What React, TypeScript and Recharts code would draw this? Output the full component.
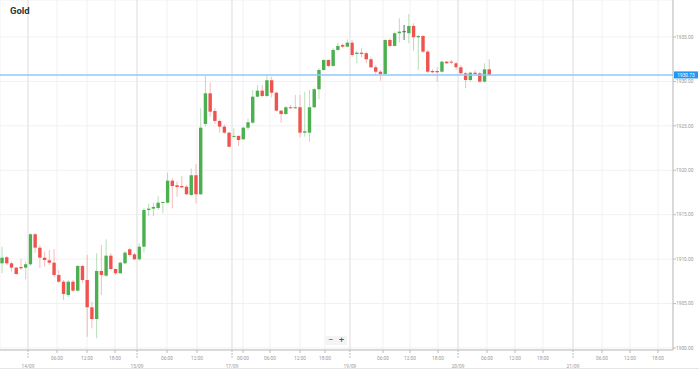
import React from "react";
import { ComposedChart, Bar, XAxis, YAxis, CartesianGrid, ReferenceLine } from "recharts";

// ---- data (hourly candles) ----
const opens = [
  1909.53, 1910.21, 1909.53, 1909.04, 1909.12, 1909.04, 1909.42, 1912.80, 1911.29, 1910.16,
  1909.87, 1909.60, 1908.22, 1907.46, 1905.96, 1907.46, 1906.45, 1909.23, 1907.65, 1904.58,
  1903.26, 1908.67, 1908.14, 1910.39, 1908.89, 1908.41, 1909.53, 1911.11, 1910.54, 1909.98,
  1911.40, 1915.53, 1915.68, 1915.76, 1916.35, 1916.35, 1918.83, 1918.31, 1918.23, 1918.15,
  1917.22, 1919.44, 1917.30, 1925.21, 1928.66, 1926.67, 1925.55, 1924.91, 1924.23, 1923.75,
  1923.86, 1923.49, 1924.79, 1925.36, 1928.28, 1928.96, 1928.36, 1930.13, 1928.73, 1926.71,
  1926.33, 1927.09, 1926.98, 1927.09, 1924.23, 1924.23, 1927.09, 1929.12, 1931.29, 1932.41,
  1931.74, 1933.54, 1934.10, 1933.91, 1934.36, 1933.09, 1933.23, 1933.17, 1932.49, 1931.59,
  1931.09, 1930.84, 1934.66, 1933.99, 1935.42, 1935.65, 1935.42, 1936.24, 1934.97, 1935.11,
  1933.35, 1931.17, 1931.17, 1931.09, 1932.22, 1932.22, 1932.04, 1931.59, 1930.91, 1930.16,
  1930.98, 1930.91, 1929.97, 1931.36,
];
const highs = [
  1911.40, 1910.35, 1909.71, 1909.15, 1910.02, 1909.71, 1912.91, 1912.94, 1911.59, 1910.84,
  1911.03, 1911.14, 1908.78, 1907.65, 1907.65, 1907.65, 1909.34, 1909.34, 1910.47, 1905.21,
  1910.66, 1911.59, 1912.23, 1910.66, 1908.97, 1909.71, 1910.92, 1911.29, 1910.73, 1911.78,
  1915.72, 1916.21, 1916.35, 1917.11, 1916.46, 1919.73, 1919.10, 1918.72, 1919.36, 1918.34,
  1920.18, 1920.71, 1926.98, 1930.61, 1929.86, 1927.01, 1925.74, 1925.13, 1924.34, 1924.73,
  1923.94, 1924.91, 1925.81, 1929.03, 1929.60, 1929.60, 1930.84, 1930.53, 1928.84, 1926.78,
  1927.23, 1927.35, 1928.47, 1928.47, 1928.84, 1929.03, 1929.26, 1931.48, 1932.49, 1932.49,
  1933.73, 1934.36, 1934.29, 1934.74, 1934.66, 1933.46, 1933.73, 1933.35, 1932.78, 1931.85,
  1931.29, 1934.74, 1934.85, 1935.60, 1937.10, 1936.35, 1937.59, 1936.54, 1935.23, 1935.23,
  1933.54, 1931.36, 1931.62, 1932.33, 1932.30, 1932.41, 1932.22, 1931.85, 1931.09, 1931.09,
  1931.29, 1931.09, 1932.04, 1932.49,
];
const lows = [
  1908.41, 1909.34, 1908.59, 1908.22, 1908.78, 1907.73, 1909.23, 1910.69, 1909.00, 1909.15,
  1909.34, 1907.99, 1907.28, 1905.40, 1905.74, 1906.30, 1906.34, 1907.32, 1901.27, 1902.22,
  1901.09, 1905.96, 1908.02, 1908.78, 1908.22, 1908.33, 1909.42, 1910.27, 1909.90, 1909.82,
  1910.73, 1914.86, 1914.86, 1915.53, 1915.16, 1916.28, 1915.72, 1917.03, 1917.97, 1917.22,
  1917.11, 1916.28, 1917.22, 1924.91, 1926.03, 1925.21, 1924.23, 1924.08, 1922.59, 1923.71,
  1922.73, 1923.41, 1924.53, 1925.21, 1928.21, 1928.21, 1928.21, 1928.21, 1926.59, 1925.36,
  1926.22, 1926.90, 1926.90, 1923.71, 1923.78, 1923.22, 1927.01, 1927.99, 1931.17, 1931.59,
  1931.66, 1933.46, 1933.73, 1933.84, 1932.78, 1932.04, 1932.72, 1932.04, 1931.48, 1930.72,
  1930.08, 1930.72, 1933.84, 1933.91, 1934.36, 1934.66, 1934.29, 1933.46, 1931.29, 1933.17,
  1930.91, 1930.91, 1929.97, 1930.98, 1931.96, 1931.96, 1931.29, 1930.72, 1929.23, 1929.97,
  1930.61, 1929.86, 1929.86, 1930.61,
];
const closes = [
  1910.16, 1909.53, 1909.04, 1908.33, 1908.97, 1909.42, 1912.80, 1911.29, 1910.16, 1909.90,
  1909.60, 1908.22, 1907.46, 1906.08, 1907.46, 1906.45, 1909.23, 1907.65, 1904.58, 1903.26,
  1908.67, 1908.22, 1910.39, 1908.89, 1908.41, 1909.60, 1910.73, 1910.47, 1909.98, 1911.40,
  1915.53, 1915.68, 1915.87, 1916.35, 1916.43, 1918.83, 1918.23, 1918.12, 1918.08, 1917.30,
  1919.44, 1917.30, 1924.79, 1928.66, 1926.59, 1925.55, 1924.91, 1924.23, 1922.65, 1923.86,
  1923.41, 1924.79, 1925.40, 1928.28, 1928.96, 1928.36, 1930.13, 1928.73, 1926.71, 1926.33,
  1927.09, 1926.98, 1927.09, 1924.23, 1924.39, 1927.09, 1929.12, 1931.29, 1932.41, 1931.74,
  1933.54, 1933.99, 1933.91, 1934.36, 1932.97, 1933.23, 1933.09, 1932.49, 1931.59, 1931.09,
  1930.84, 1934.66, 1933.99, 1935.42, 1935.60, 1935.65, 1936.24, 1934.97, 1935.11, 1933.35,
  1931.09, 1931.03, 1931.03, 1932.22, 1932.04, 1932.11, 1931.59, 1930.91, 1930.16, 1930.98,
  1930.84, 1929.97, 1931.36, 1930.73,
];

const lastPrice = 1930.73;
const priceTicks = [1900, 1905, 1910, 1915, 1920, 1925, 1930, 1935];

// time-axis ticks, expressed in candle-index units
const timeTickPos = [
  5.56, 11.69, 18.03, 23.95, 28.6, 34.95, 41.29, 48.69, 51.01, 56.72, 63.07, 68.35,
  73.62, 80.61, 86.32, 92.24, 96.47, 102.6, 108.52, 114.44, 120.78, 126.91, 132.83, 138.75,
];
const timeTickLabels = [
  "14/09", "06:00", "12:00", "18:00", "15/09", "06:00", "12:00", "17/09", "00:00", "06:00", "12:00", "18:00",
  "19/09", "06:00", "12:00", "18:00", "20/09", "06:00", "12:00", "18:00", "21/09", "06:00", "12:00", "18:00",
];
const timeTickIsDay = timeTickLabels.map((l) => l.includes("/"));
const dayTickPos = timeTickPos.filter((_, k) => timeTickIsDay[k]);

const rows = opens.map((o, i) => ({ i, open: o, high: highs[i], low: lows[i], close: closes[i] }));

const UP = "#4caf50";
const DOWN = "#ef5350";
const FONT = "Roboto, Arial, sans-serif";

const Candle = (props: any) => {
  const { x, y, width, height, payload } = props;
  if (!payload) return null;
  const { open, close, high, low } = payload;
  const top = Math.min(y, y + height);
  const h = Math.abs(height);
  const k = h / (high - low);
  const py = (v: number) => top + (high - v) * k;
  const doji = Math.abs(close - open) < 0.03;
  const color = doji ? "#555" : close > open ? UP : DOWN;
  const cx = x + width / 2;
  const bTop = py(Math.max(open, close));
  const bBot = py(Math.min(open, close));
  return (
    <g>
      <line x1={cx} x2={cx} y1={top} y2={top + h} stroke={color} strokeOpacity={doji ? 0.9 : 0.4} strokeWidth={1} />
      <rect x={x} y={bTop} width={width} height={Math.max(bBot - bTop, 1)} fill={color} />
    </g>
  );
};

const XTick = (props: any) => {
  const { x, y, payload } = props;
  const k = timeTickPos.indexOf(payload.value);
  if (k < 0) return null;
  const day = timeTickIsDay[k];
  return (
    <g>
      <line x1={x} x2={x} y1={y} y2={y + (day ? 8 : 3)} stroke="#bbb" strokeDasharray={day ? "2 1" : undefined} />
      <text x={x} y={y + (day ? 18 : 10)} textAnchor="middle" fontSize={4.8} fill="#999" fontFamily={FONT}>
        {timeTickLabels[k]}
      </text>
    </g>
  );
};

const PriceLabel = (props: any) => {
  const vb = props.viewBox || {};
  const x0 = (vb.x || 0) + (vb.width || 0) + 1;
  const yc = vb.y || 0;
  return (
    <g>
      <rect x={x0} y={yc - 3.5} width={24} height={7} fill="#2196f3" />
      <text x={x0 + 12} y={yc + 1.7} textAnchor="middle" fontSize={4.8} fill="#fff" fontFamily={FONT}>
        {lastPrice.toFixed(2)}
      </text>
    </g>
  );
};

export default function App() {
  return (
    <div style={{ position: "absolute", left: 0, top: 0, width: 699, height: 371, background: "#fff" }}>
      <ComposedChart width={699} height={371} data={rows} margin={{ top: 0, right: 0, bottom: 0, left: 0 }}>
        <CartesianGrid stroke="#f1f1f1" />
        <XAxis
          dataKey="i"
          type="number"
          domain={[-0.36, 141.92]}
          allowDataOverflow
          ticks={timeTickPos}
          interval={0}
          height={21}
          tickSize={0}
          tickMargin={0}
          tickLine={false}
          axisLine={{ stroke: "#bbb" }}
          tick={<XTick />}
        />
        <YAxis
          orientation="right"
          type="number"
          domain={[1899.775, 1939.16]}
          allowDataOverflow
          ticks={priceTicks}
          interval={0}
          width={26}
          tickSize={3}
          tickMargin={0}
          tickLine={{ stroke: "#bbb" }}
          axisLine={{ stroke: "#bbb" }}
          tick={{ fontSize: 4.8, fill: "#999", fontFamily: FONT }}
          tickFormatter={(v: number) => v.toFixed(2)}
        />
        {dayTickPos.map((p) => (
          <ReferenceLine key={p} x={p} stroke="#e3e3e3" />
        ))}
        <Bar dataKey={(d: any) => [d.low, d.high]} barSize={3.4} shape={<Candle />} isAnimationActive={false} />
        <ReferenceLine y={lastPrice} stroke="#90caf9" strokeWidth={1.5} label={<PriceLabel />} />
      </ComposedChart>
      <div style={{ position: "absolute", left: 10, top: 5, font: `bold 9.5px ${FONT}`, color: "#333", lineHeight: "12px" }}>
        Gold
      </div>
      <div style={{ position: "absolute", left: 325, top: 336, width: 22, height: 9, background: "#f4f4f4", display: "flex" }}>
        <div style={{ width: 11, textAlign: "center", font: `9px ${FONT}`, lineHeight: "9px", color: "#555" }}>−</div>
        <div style={{ width: 11, textAlign: "center", font: `9px ${FONT}`, lineHeight: "9px", color: "#555" }}>+</div>
      </div>
      <div style={{ position: "absolute", left: 0, top: 368, width: 699, height: 1, background: "#e6e6e6" }} />
    </div>
  );
}
